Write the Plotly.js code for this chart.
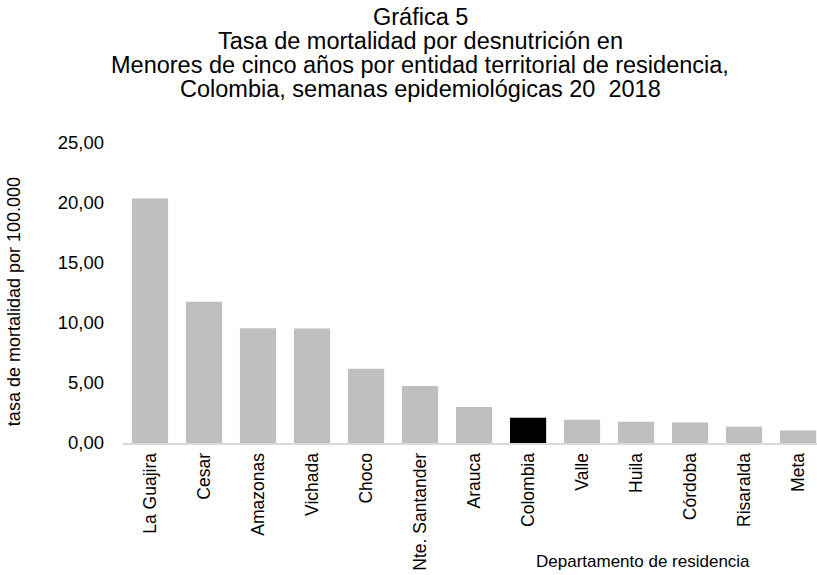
<!DOCTYPE html>
<html>
<head>
<meta charset="utf-8">
<script src="https://cdn.plot.ly/plotly-3.0.1.min.js"></script>
<style>
  body { margin: 0; background: #fff; }
  #chart { width: 817px; height: 575px; }
</style>
</head>
<body>
<div id="chart"></div>
<script>
// departments, ordered as in the chart
const departamentos = ['La Guajira', 'Cesar', 'Amazonas', 'Vichada', 'Choco', 'Nte. Santander',
  'Arauca', 'Colombia', 'Valle', 'Huila', 'Córdoba', 'Risaralda', 'Meta'];
// rate per 100.000 under five
const tasas = [20.37, 11.77, 9.56, 9.54, 6.18, 4.76, 3.00, 2.10, 1.94, 1.77, 1.71, 1.35, 1.05];
const yTicks = [0, 5, 10, 15, 20, 25];
const tituloLineas = [
  'Gráfica 5',
  'Tasa de mortalidad por desnutrición en',
  'Menores de cinco años por entidad territorial de residencia,',
  'Colombia, semanas epidemiológicas 20  2018'
];

const font = 'Liberation Sans, Arial, sans-serif';

// Colombia bar is highlighted in black
const colores = departamentos.map(function (d) {
  return d === 'Colombia' ? '#000000' : '#bfbfbf';
});

const trace = {
  x: departamentos,
  y: tasas,
  type: 'bar',
  marker: { color: colores },
  hoverinfo: 'x+y'
};

// title lines are set one by one to keep the tight line spacing
const tituloAnn = tituloLineas.map(function (t, i) {
  return {
    text: t,
    xref: 'paper', yref: 'paper',
    x: 0.428, y: 1.419 - i * 0.0798,
    xanchor: 'center', yanchor: 'middle',
    showarrow: false,
    font: { family: font, size: 23.5 }
  };
});

const layout = {
  width: 817,
  height: 575,
  margin: { l: 123, r: 0, t: 143, b: 132 },
  paper_bgcolor: '#ffffff',
  plot_bgcolor: '#ffffff',
  separators: ',.',
  bargap: 0.33,
  showlegend: false,
  font: { family: font, size: 17, color: '#000000' },
  xaxis: {
    type: 'category',
    range: [-0.5, 12.35],
    tickangle: -90,
    showline: true,
    linecolor: '#d9d9d9',
    linewidth: 2,
    showgrid: false,
    ticks: '',
    tickfont: { family: font, size: 17.5 },
    ticklabelstandoff: 1
  },
  yaxis: {
    range: [0, 25],
    tickvals: yTicks,
    tickformat: '.2f',
    showline: false,
    showgrid: false,
    zeroline: false,
    ticks: '',
    tickfont: { family: font, size: 18.5 },
    ticklabelstandoff: 18
  },
  annotations: tituloAnn.concat([
    {
      text: 'tasa de mortalidad por 100.000',
      xref: 'paper', yref: 'paper',
      x: -0.156, y: 0.472,
      xanchor: 'center', yanchor: 'middle',
      textangle: -90,
      showarrow: false,
      font: { family: font, size: 18 }
    },
    {
      text: 'Departamento de residencia',
      xref: 'paper', yref: 'paper',
      x: 0.749, y: -0.395,
      xanchor: 'center', yanchor: 'middle',
      showarrow: false,
      font: { family: font, size: 17 }
    }
  ])
};

Plotly.newPlot('chart', [trace], layout, { displayModeBar: false });
</script>
</body>
</html>
